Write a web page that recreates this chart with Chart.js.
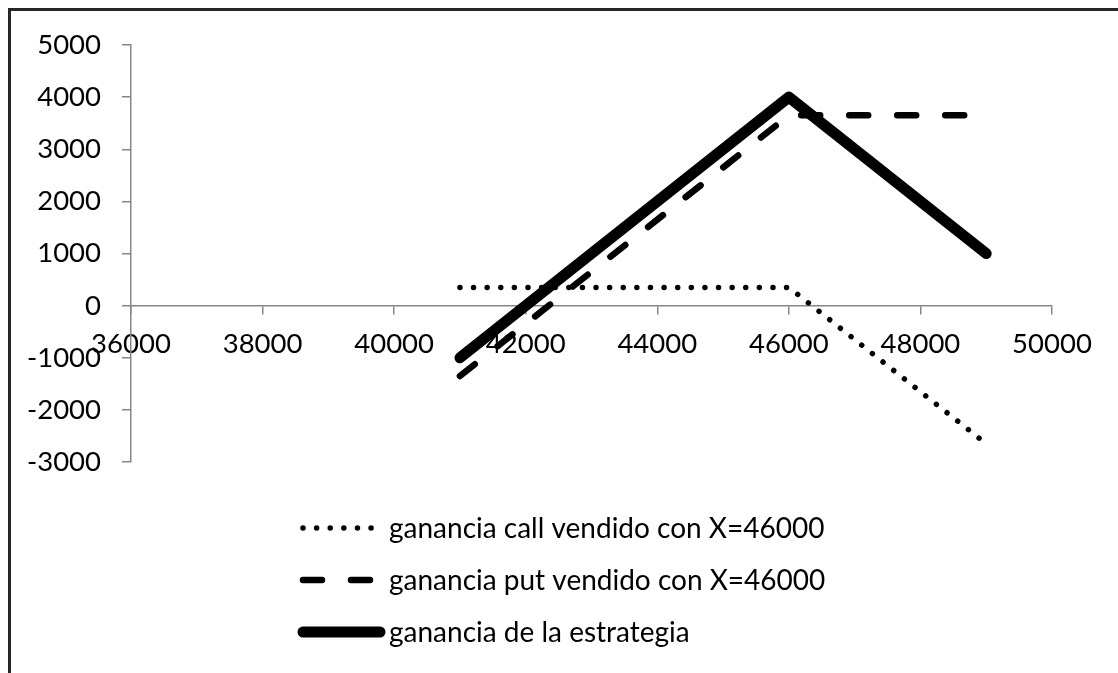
<!DOCTYPE html>
<html>
<head>
<meta charset="utf-8">
<script src="https://cdn.jsdelivr.net/npm/chart.js@4"></script>
<style>
  body { margin: 0; background: #fff; overflow: hidden; }
  #wrap { position: relative; width: 1118px; height: 673px; overflow: hidden; }
  #marco { position: absolute; left: 8px; top: 8px; width: 1300px; height: 1000px; border: 3px solid #262626; }
  canvas { position: absolute; left: 0; top: 0; }
</style>
</head>
<body>
<div id="wrap">
  <div id="marco"></div>
  <canvas id="grafico" width="1118" height="673"></canvas>
</div>
<script>
// precios del subyacente al vencimiento
const precios = [41000, 46000, 49000];

// ganancias de cada posicion
const gananciaCall = [350, 350, -2650];
const gananciaPut = [-1350, 3650, 3650];
const gananciaEstrategia = [-1000, 4000, 1000];

const etiquetas = [
  "ganancia call vendido con X=46000",
  "ganancia put vendido con X=46000",
  "ganancia de la estrategia",
];

// ejes
const ejeX = { min: 36000, max: 50000, paso: 2000 };
const ejeY = { min: -3000, max: 5000, paso: 1000 };

const gris = "#868686";
const fuente = "Lato, 'Open Sans', sans-serif";

function puntos(ys) {
  return precios.map((x, i) => ({ x: x, y: ys[i] }));
}

// leyenda vertical al estilo excel
const leyenda = {
  id: "leyenda",
  afterDraw(chart) {
    const ctx = chart.ctx;
    chart.data.datasets.forEach((ds, i) => {
      const y = 528 + i * 52;
      ctx.save();
      ctx.strokeStyle = ds.borderColor;
      ctx.lineWidth = ds.borderWidth;
      ctx.lineCap = ds.borderCapStyle;
      ctx.setLineDash(ds.borderDash || []);
      ctx.beginPath();
      ctx.moveTo(303, y);
      ctx.lineTo(ds.borderWidth > 8 ? 380 : 372, y);
      ctx.stroke();
      ctx.restore();

      ctx.save();
      ctx.fillStyle = "#000";
      ctx.font = "28px " + fuente;
      ctx.textBaseline = "middle";
      ctx.fillText(ds.label, 389, y + 1);
      ctx.restore();
    });
  },
};

new Chart(document.getElementById("grafico"), {
  type: "scatter",
  data: {
    datasets: [
      {
        label: etiquetas[0],
        data: puntos(gananciaCall),
        showLine: true,
        borderColor: "#000",
        borderWidth: 5.5,
        borderDash: [0.01, 13.6],
        borderCapStyle: "round",
        borderJoinStyle: "round",
        pointRadius: 0,
        order: 3,
      },
      {
        label: etiquetas[1],
        data: puntos(gananciaPut),
        showLine: true,
        borderColor: "#000",
        borderWidth: 6.5,
        borderDash: [19, 29],
        borderCapStyle: "round",
        borderJoinStyle: "round",
        pointRadius: 0,
        order: 2,
      },
      {
        label: etiquetas[2],
        data: puntos(gananciaEstrategia),
        showLine: true,
        borderColor: "#000",
        borderWidth: 11,
        borderCapStyle: "round",
        borderJoinStyle: "round",
        pointRadius: 0,
        order: 1,
      },
    ],
  },
  options: {
    responsive: false,
    animation: false,
    layout: { padding: { left: 0, top: 45, right: 66, bottom: 211 } },
    plugins: {
      legend: { display: false },
      tooltip: { enabled: false },
    },
    scales: {
      x: {
        type: "linear",
        position: { y: 0 },
        min: ejeX.min,
        max: ejeX.max,
        ticks: {
          stepSize: ejeX.paso,
          color: "#000",
          padding: 14,
          maxRotation: 0,
          autoSkip: false,
          font: { family: fuente, size: 27.5 },
          callback: (v) => String(v),
        },
        grid: { drawOnChartArea: false, drawTicks: true, tickLength: 8, color: gris, lineWidth: 1.5 },
        border: { display: true, color: gris, width: 1.5 },
      },
      y: {
        type: "linear",
        position: "left",
        min: ejeY.min,
        max: ejeY.max,
        afterFit: (s) => { s.width = 131; },
        ticks: {
          stepSize: ejeY.paso,
          color: "#000",
          padding: 21,
          font: { family: fuente, size: 27.5 },
          callback: (v) => String(v),
        },
        grid: { drawOnChartArea: false, drawTicks: true, tickLength: 9, color: gris, lineWidth: 1.5 },
        border: { display: true, color: gris, width: 1.5 },
      },
    },
  },
  plugins: [leyenda],
});
</script>
</body>
</html>
